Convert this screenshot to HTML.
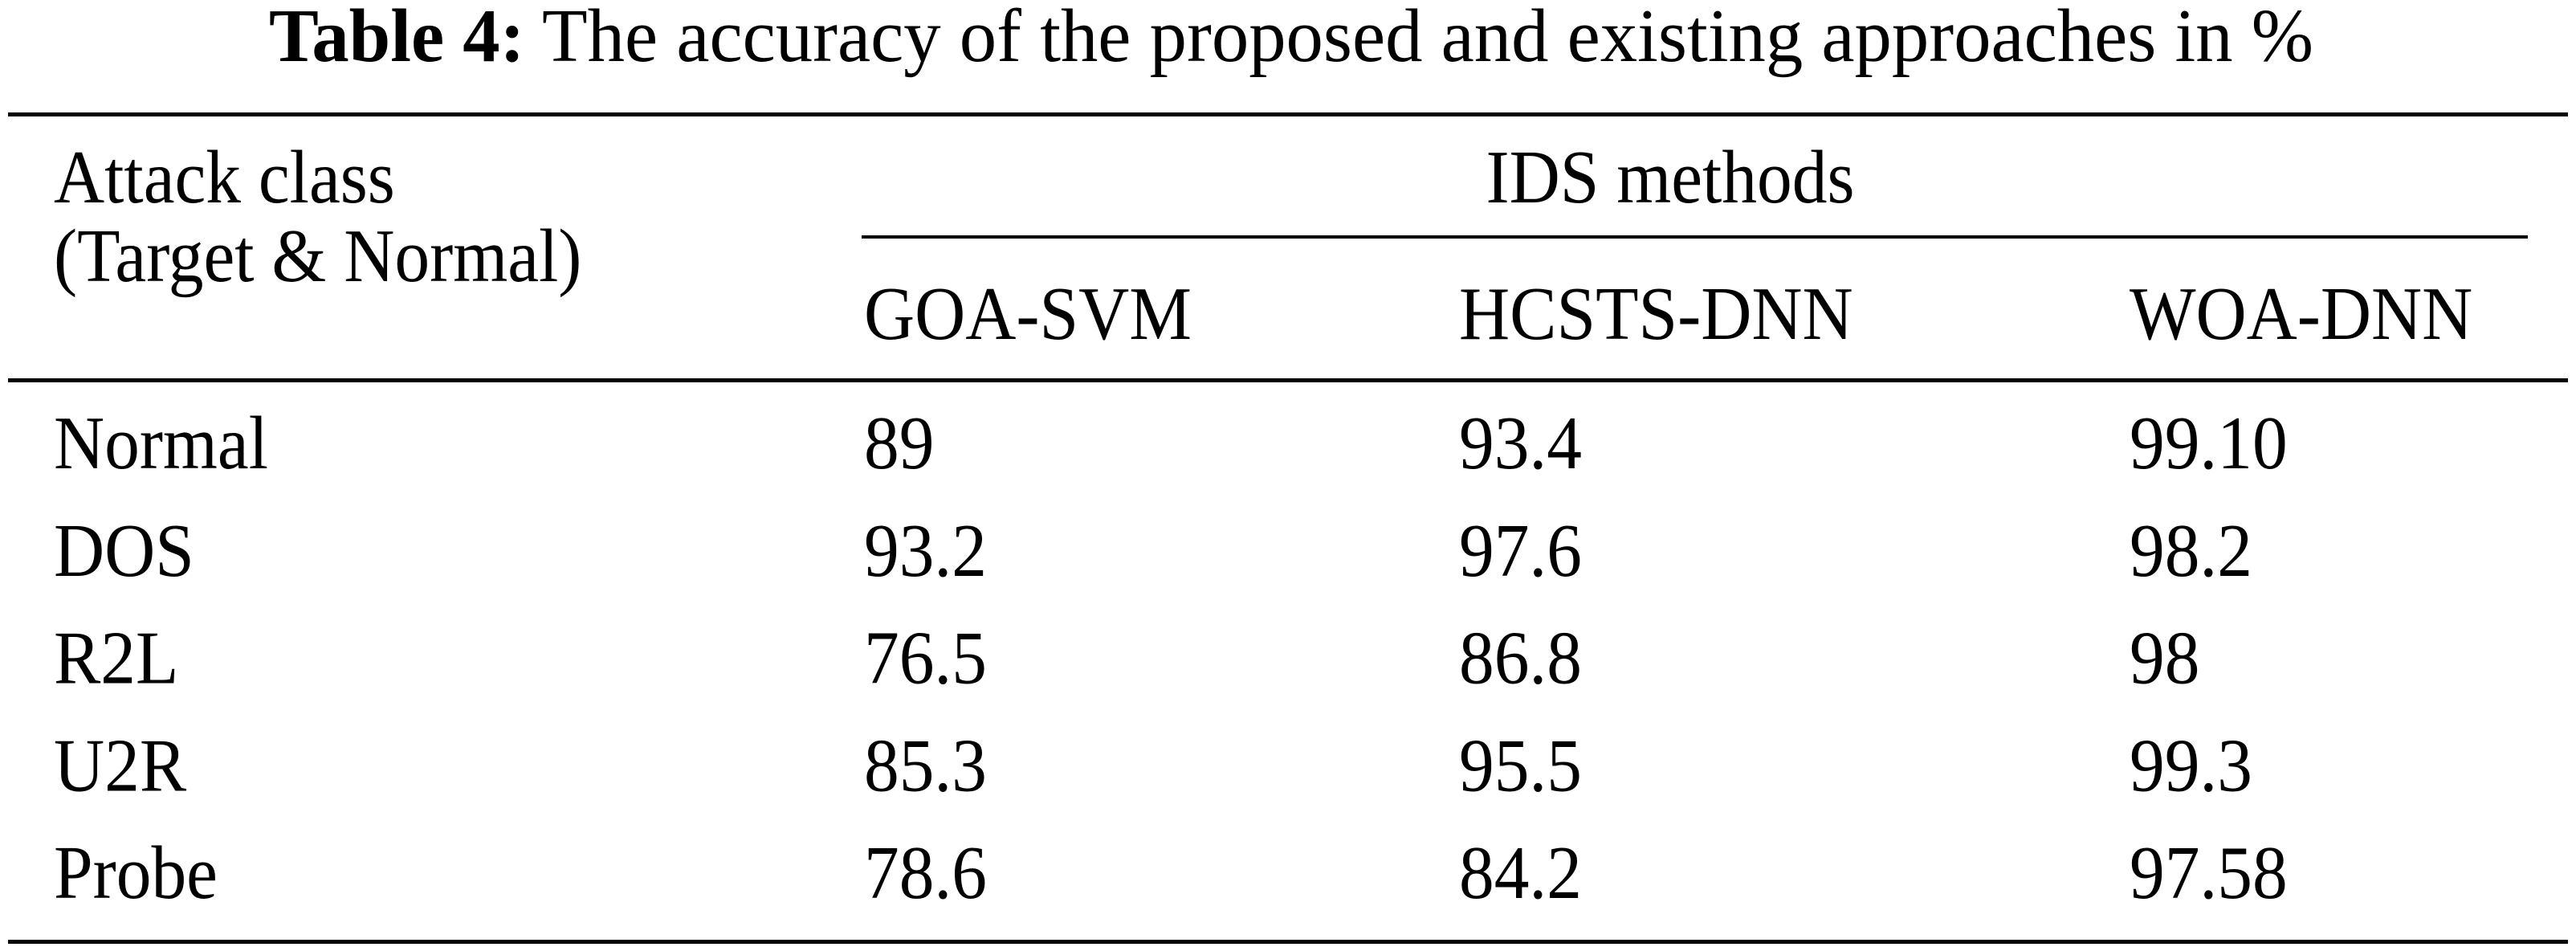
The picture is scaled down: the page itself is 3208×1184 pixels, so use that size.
<!DOCTYPE html>
<html><head><meta charset="utf-8">
<style>
html,body{margin:0;padding:0;background:#fff;}
svg{display:block;}
text{font-family:"Liberation Serif","Times New Roman",serif;font-size:94px;fill:#000;}
</style></head>
<body>
<svg id="tbl" width="3208" height="1184" viewBox="0 0 3208 1184" xmlns="http://www.w3.org/2000/svg">
  <text id="title" x="335" y="76" textLength="2546" lengthAdjust="spacingAndGlyphs"><tspan font-weight="bold">Table 4:</tspan>  The accuracy of the proposed and existing approaches in %</text>
  <rect x="10" y="140" width="3188" height="5"/>
  <text x="67" y="252" class="fit">Attack class</text>
  <text x="67" y="350" class="fit">(Target &amp; Normal)</text>
  <text x="2080" y="252" text-anchor="middle" class="fit">IDS methods</text>
  <rect x="1073" y="293" width="2075" height="4"/>
  <rect x="10" y="471" width="3188" height="5"/>
  <rect x="10" y="1170" width="3188" height="5"/>
  <g id="body"></g>
</svg>
<script>
const methods = ["GOA-SVM", "HCSTS-DNN", "WOA-DNN"];
const attackClasses = ["Normal", "DOS", "R2L", "U2R", "Probe"];
const goaSvm = ["89", "93.2", "76.5", "85.3", "78.6"];
const hcstsDnn = ["93.4", "97.6", "86.8", "95.5", "84.2"];
const woaDnn = ["99.10", "98.2", "98", "99.3", "97.58"];

const NS = "http://www.w3.org/2000/svg";
const svg = document.getElementById("tbl");
const body = document.getElementById("body");
const colX = [67, 1076, 1817, 2652];
const headerY = 422;
const rowY0 = 583, rowStep = 133.75;
function rowY(i){ return rowY0 + i * rowStep; }

methods.forEach((m, j) => {
  const t = document.createElementNS(NS, "text");
  
  
  t.setAttribute("x", colX[j + 1]);
  t.setAttribute("y", headerY);
  t.setAttribute("class", "fit");
  t.textContent = m;
  body.appendChild(t);
});

const series = [goaSvm, hcstsDnn, woaDnn];
attackClasses.forEach((c, i) => {
  const t = document.createElementNS(NS, "text");
  
  
  t.setAttribute("x", colX[0]);
  t.setAttribute("y", rowY(i));
  t.setAttribute("class", "fit");
  t.textContent = c;
  body.appendChild(t);
  series.forEach((s, j) => {
    const v = document.createElementNS(NS, "text");
    
    
    v.setAttribute("x", colX[j + 1]);
    v.setAttribute("y", rowY(i));
    v.setAttribute("class", "fit");
    v.textContent = s[i];
    body.appendChild(v);
  });
});

document.querySelectorAll("text.fit").forEach(t => {
  const w = t.getComputedTextLength();
  t.setAttribute("textLength", (w * 0.93).toFixed(1));
  t.setAttribute("lengthAdjust", "spacingAndGlyphs");
});
</script>
</body></html>
